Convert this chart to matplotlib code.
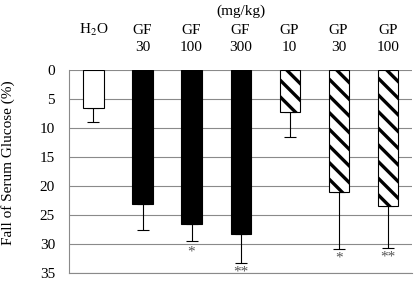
import matplotlib
matplotlib.use('Agg')
import matplotlib.pyplot as plt
from matplotlib.transforms import blended_transform_factory

plt.rcParams['font.family'] = 'Liberation Serif'
plt.rcParams['mathtext.fontset'] = 'stix'
plt.rcParams['hatch.linewidth'] = 2.4

# datos
grupos = ['H$_2$O', 'GF', 'GF', 'GF', 'GP', 'GP', 'GP']
doses = ['', '30', '100', '300', '10', '30', '100']
queda = [6.6, 23.1, 26.6, 28.3, 7.3, 21.1, 23.4]
erro = [2.4, 4.5, 2.9, 4.9, 4.3, 9.7, 7.2]
marcas = ['', '', '*', '**', '', '*', '**']
marca_y = [0, 0, 31.4, 34.8, 0, 32.5, 32.3]

fig = plt.figure(figsize=(4.18, 2.85), dpi=100)
ax = fig.add_axes([0.165, 0.042, 0.821, 0.712])

x = range(len(queda))
cores = ['white', 'black', 'black', 'black', 'white', 'white', 'white']
hachuras = [None, None, None, None, '\\\\', '\\\\', '\\\\']
for i in x:
    ax.bar(i, queda[i], width=0.41, color=cores[i], edgecolor='black',
           linewidth=0.8, hatch=hachuras[i], zorder=3)
    ax.errorbar(i, queda[i], yerr=[[0], [erro[i]]], fmt='none', ecolor='black',
                elinewidth=0.8, capsize=4, capthick=0.8, zorder=2)
    if marcas[i]:
        ax.text(i, marca_y[i], marcas[i], ha='center', va='center',
                fontsize=11, color='#555555')

ax.set_xlim(-0.5, 6.5)
ax.set_ylim(35, 0)
ax.set_yticks(range(0, 36, 5))
ax.yaxis.grid(True, color='#8a8a8a', linewidth=0.8, zorder=0)
ax.set_xticks([])
ax.tick_params(axis='y', length=0, labelsize=11, pad=10)
for s in ['top', 'right']:
    ax.spines[s].set_visible(False)
ax.spines['left'].set_color('#8a8a8a')
ax.spines['bottom'].set_color('#8a8a8a')

trans = blended_transform_factory(ax.transData, ax.transAxes)
for i in x:
    ax.text(i, 1.197, grupos[i], ha='center', va='center', fontsize=11, transform=trans)
    ax.text(i, 1.113, doses[i], ha='center', va='center', fontsize=11, transform=trans)
ax.text(3, 1.29, '(mg/kg)', ha='center', va='center', fontsize=11, transform=trans)

fig.text(0.018, 0.43, 'Fall of Serum Glucose (%)', rotation=90,
         ha='center', va='center', fontsize=11)

fig.savefig('out.png', dpi=100)
